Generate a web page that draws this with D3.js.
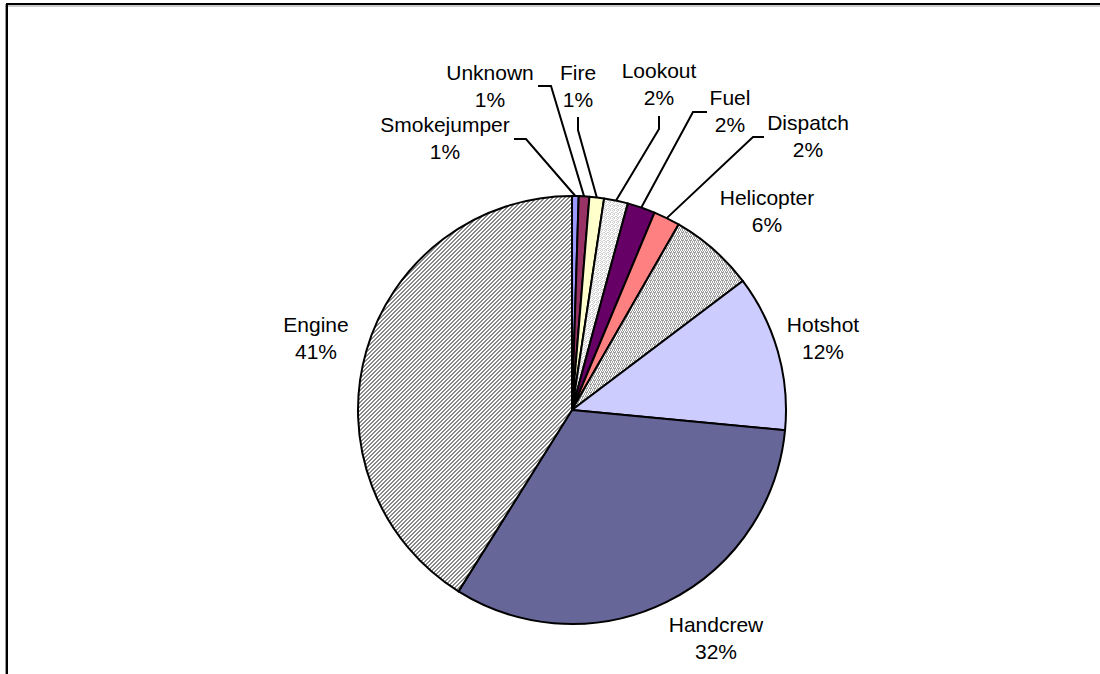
<!DOCTYPE html>
<html>
<head>
<meta charset="utf-8">
<script src="https://cdn.jsdelivr.net/npm/d3@7/dist/d3.min.js"></script>
<style>
  html, body { margin: 0; padding: 0; background: #fff; }
  svg { display: block; }
  text { font-family: "Liberation Sans", Arial, sans-serif; font-size: 21px; fill: #000; }
</style>
</head>
<body>
<svg id="chart" width="1100" height="674"></svg>
<script>
// Crew type share of the total (percent), clockwise from 12 o'clock
const categories = ["Smokejumper", "Unknown", "Fire", "Lookout", "Fuel", "Dispatch", "Helicopter", "Hotshot", "Handcrew", "Engine"];
const shares = [0.5, 0.8, 1.1, 1.8, 2.1, 2.0, 6.4, 11.8, 32.4, 41.1];

// Slice fills (patterns defined below)
const fills = ["#9999FF", "#993366", "#FFFFCC", "url(#pat-dots)", "#660066", "#FF8080", "url(#pat-weave)", "#CCCCFF", "#666699", "url(#pat-hatch)"];

// Label placement relative to the pie centre: centre x and first baseline,
// plus an optional elbow for the leader line (start point, bend point).
const labelLayout = {
  Smokejumper: { x: -127, y: -278, leader: [[-58, -271], [-46, -271]] },
  Unknown:     { x: -82,  y: -330, leader: [[-34, -324], [-21, -324]] },
  Fire:        { x: 6,    y: -330, leader: [[6, -293], [6, -280]] },
  Lookout:     { x: 87,   y: -332, leader: [[87, -294], [87, -281]] },
  Fuel:        { x: 158,  y: -305, leader: [[135, -298], [121, -298]] },
  Dispatch:    { x: 236,  y: -280, leader: [[192, -273], [181, -273]] },
  Helicopter:  { x: 195,  y: -205 },
  Hotshot:     { x: 251,  y: -78 },
  Engine:      { x: -256, y: -78 },
  Handcrew:    { x: 144,  y: 222 }
};

const W = 1100, H = 674;
const cx = 572, cy = 410, r = 214;
const lineGap = 27;

const svg = d3.select("#chart");
const defs = svg.append("defs");

// Pixel patterns: each is a 4x4 tile of coloured cells on white
function pixelPattern(id, cells, color) {
  const p = defs.append("pattern")
    .attr("id", id)
    .attr("patternUnits", "userSpaceOnUse")
    .attr("width", 4).attr("height", 4);
  p.append("rect").attr("width", 4).attr("height", 4).attr("fill", "#fff");
  p.selectAll("rect.px").data(cells).join("rect")
    .attr("class", "px")
    .attr("x", d => d[0]).attr("y", d => d[1])
    .attr("width", 1).attr("height", 1)
    .attr("fill", color)
    .attr("shape-rendering", "crispEdges");
}

// diagonal "/" hatch
const hatch = [];
for (let y = 0; y < 4; y++) for (let x = 0; x < 4; x++) {
  if ((x + y) % 4 === 3 || (x + y) % 4 === 0) hatch.push([x, y]);
}
pixelPattern("pat-hatch", hatch, "#8a8a8a");
// light dotted texture
pixelPattern("pat-dots", [[0, 0], [2, 0], [1, 1], [3, 2], [0, 2], [2, 3], [1, 3]], "#cfcfcf");
// denser weave texture
pixelPattern("pat-weave", [[0, 0], [1, 1], [2, 0], [3, 1], [1, 2], [0, 3], [2, 3], [3, 2], [2, 2]], "#a0a0a0");

// Chart frame
svg.append("line").attr("x1", 6).attr("x2", W).attr("y1", 6).attr("y2", 6)
  .attr("stroke", "#9a9a9a").attr("stroke-width", 1);
svg.append("line").attr("x1", 5.5).attr("x2", 5.5).attr("y1", 4).attr("y2", H)
  .attr("stroke", "#9a9a9a").attr("stroke-width", 1);
svg.append("line").attr("x1", 6).attr("x2", W).attr("y1", 4).attr("y2", 4)
  .attr("stroke", "#000").attr("stroke-width", 2);
svg.append("line").attr("x1", 7).attr("x2", 7).attr("y1", 3).attr("y2", H)
  .attr("stroke", "#000").attr("stroke-width", 2);

const data = categories.map((c, i) => ({ name: c, value: shares[i], fill: fills[i] }));

const pie = d3.pie().value(d => d.value).sort(null).startAngle(0).endAngle(2 * Math.PI);
const arcs = pie(data);
const arc = d3.arc().innerRadius(0).outerRadius(r);

const g = svg.append("g").attr("transform", `translate(${cx},${cy})`);

g.selectAll("path.slice").data(arcs).join("path")
  .attr("class", "slice")
  .attr("d", arc)
  .attr("fill", d => d.data.fill)
  .attr("stroke", "#000")
  .attr("stroke-width", 2)
  .attr("stroke-linejoin", "round");

// Leader lines to the slice's outer edge at its mid angle
const edgePoint = d => {
  const a = (d.startAngle + d.endAngle) / 2;
  return [r * Math.sin(a), -r * Math.cos(a)];
};

const withLeader = arcs.filter(d => labelLayout[d.data.name].leader);
g.selectAll("polyline.leader").data(withLeader).join("polyline")
  .attr("class", "leader")
  .attr("points", d => {
    const L = labelLayout[d.data.name].leader;
    return [L[0], L[1], edgePoint(d)].map(p => p.join(",")).join(" ");
  })
  .attr("fill", "none")
  .attr("stroke", "#000")
  .attr("stroke-width", 2);

// Two-line labels: name and rounded percentage
const total = d3.sum(shares);
const labels = g.selectAll("text.lbl").data(arcs).join("text")
  .attr("class", "lbl")
  .attr("text-anchor", "middle")
  .attr("x", d => labelLayout[d.data.name].x)
  .attr("y", d => labelLayout[d.data.name].y);
labels.append("tspan")
  .attr("x", d => labelLayout[d.data.name].x)
  .text(d => d.data.name);
labels.append("tspan")
  .attr("x", d => labelLayout[d.data.name].x)
  .attr("dy", lineGap)
  .text(d => Math.round(d.data.value / total * 100) + "%");
</script>
</body>
</html>
